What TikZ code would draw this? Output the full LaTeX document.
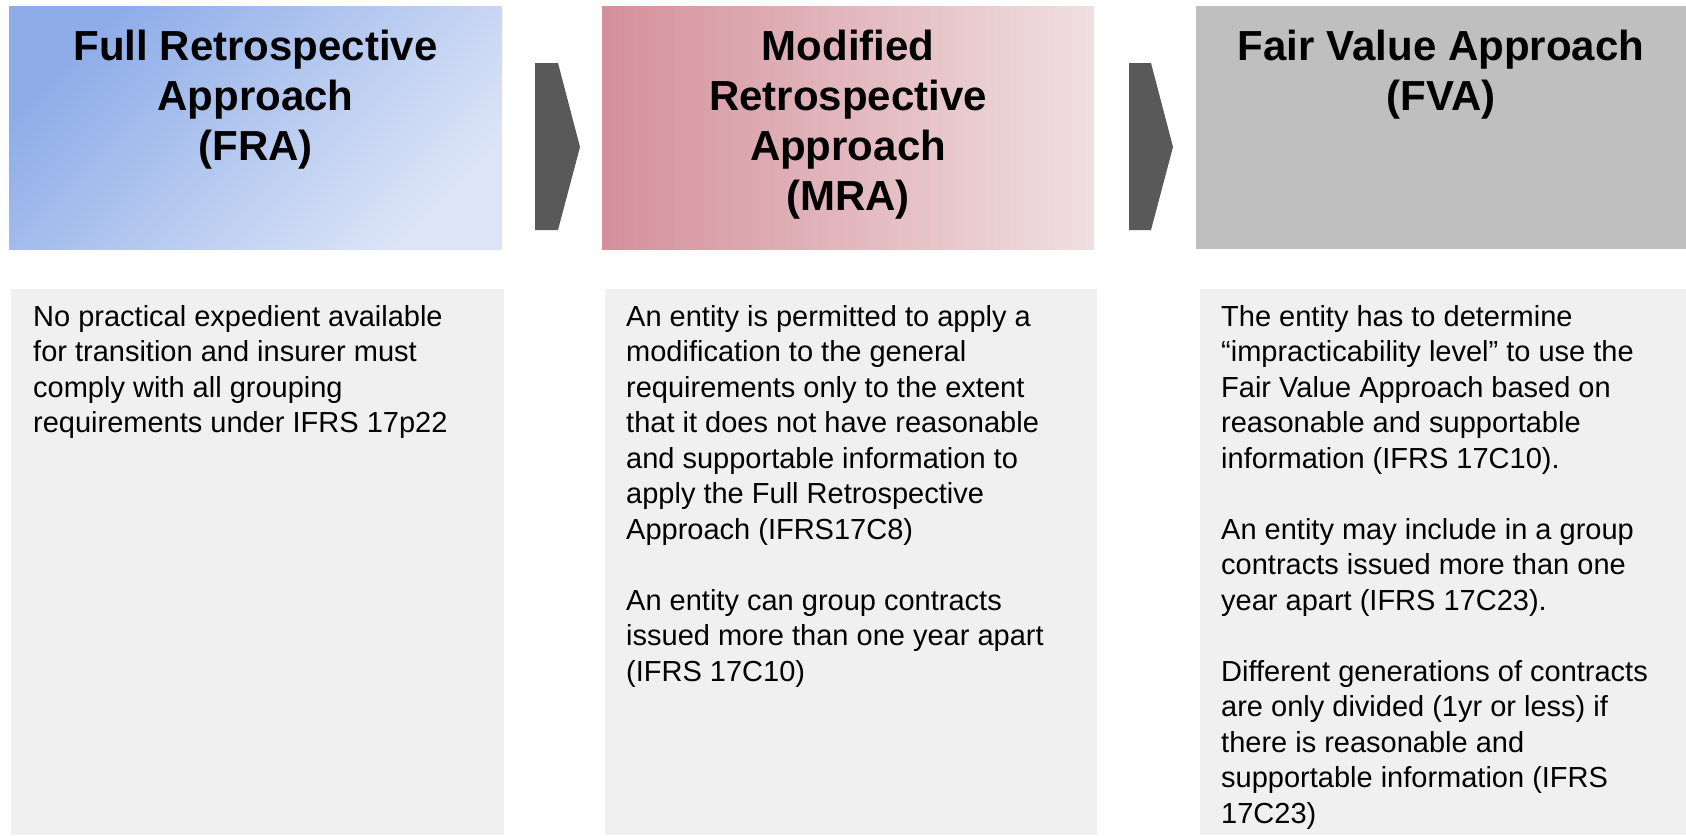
\documentclass[tikz,border=0pt]{standalone}
\usepackage{fontspec}
\setmainfont{Liberation Sans}
\usetikzlibrary{positioning}
\definecolor{fraDark}{HTML}{8DACE8}
\definecolor{fraLight}{HTML}{DCE5F7}
\definecolor{mraDark}{HTML}{D4909A}
\definecolor{mraLight}{HTML}{F0DFE1}
\definecolor{fvaGray}{HTML}{BFBFBF}
\definecolor{descGray}{HTML}{F0F0F0}
\definecolor{chevGray}{HTML}{595959}

\begin{document}
\begin{tikzpicture}[x=1pt,y=-1pt,
  head/.style={anchor=north, inner sep=0pt, align=center,
    font=\fontsize{42}{50}\selectfont\bfseries},
  desc/.style={anchor=north west, inner sep=0pt, align=left,
    font=\fontsize{29}{35.5}\selectfont},
  chev/.style={fill=chevGray}]
\useasboundingbox (0,0) rectangle (1686,835);

\shade[top color=fraDark, bottom color=fraLight, shading angle=45] (9,6) rectangle (502,249);
\shade[left color=mraDark, right color=mraLight] (602,6) rectangle (1094,249);
\fill[fvaGray] (1196,6) rectangle (1686,249);

\fill[chev] (535,63) -- (558,63) -- (580,147) -- (558,230) -- (535,230) -- cycle;
\fill[chev] (1129,63) -- (1151,63) -- (1173,147) -- (1151,230) -- (1129,230) -- cycle;

\fill[descGray] (11,289) rectangle (504,835);
\fill[descGray] (605,289) rectangle (1097,835);
\fill[descGray] (1200,289) rectangle (1686,835);

\node[head] (fraHead) at (255.5,29.5) {Full Retrospective\\Approach\\(FRA)};
\node[head] (mraHead) at (848,29.5) {Modified\\Retrospective\\Approach\\(MRA)};
\node[head] (fvaHead) at (1441,29.5) {Fair Value Approach\\(FVA)};

\node[desc] (fraText) at (33,305) {No practical expedient available\\
for transition and insurer must\\
comply with all grouping\\
requirements under IFRS 17p22};

\node[desc] (mraText) at (626,305) {An entity is permitted to apply a\\
modification to the general\\
requirements only to the extent\\
that it does not have reasonable\\
and supportable information to\\
apply the Full Retrospective\\
Approach (IFRS17C8)\\[35.5pt]
An entity can group contracts\\
issued more than one year apart\\
(IFRS 17C10)};

\node[desc] (fvaText) at (1221,305) {The entity has to determine\\
“impracticability level” to use the\\
Fair Value Approach based on\\
reasonable and supportable\\
information (IFRS 17C10).\\[35.5pt]
An entity may include in a group\\
contracts issued more than one\\
year apart (IFRS 17C23).\\[35.5pt]
Different generations of contracts\\
are only divided (1yr or less) if\\
there is reasonable and\\
supportable information (IFRS\\
17C23)};
\end{tikzpicture}
\end{document}
